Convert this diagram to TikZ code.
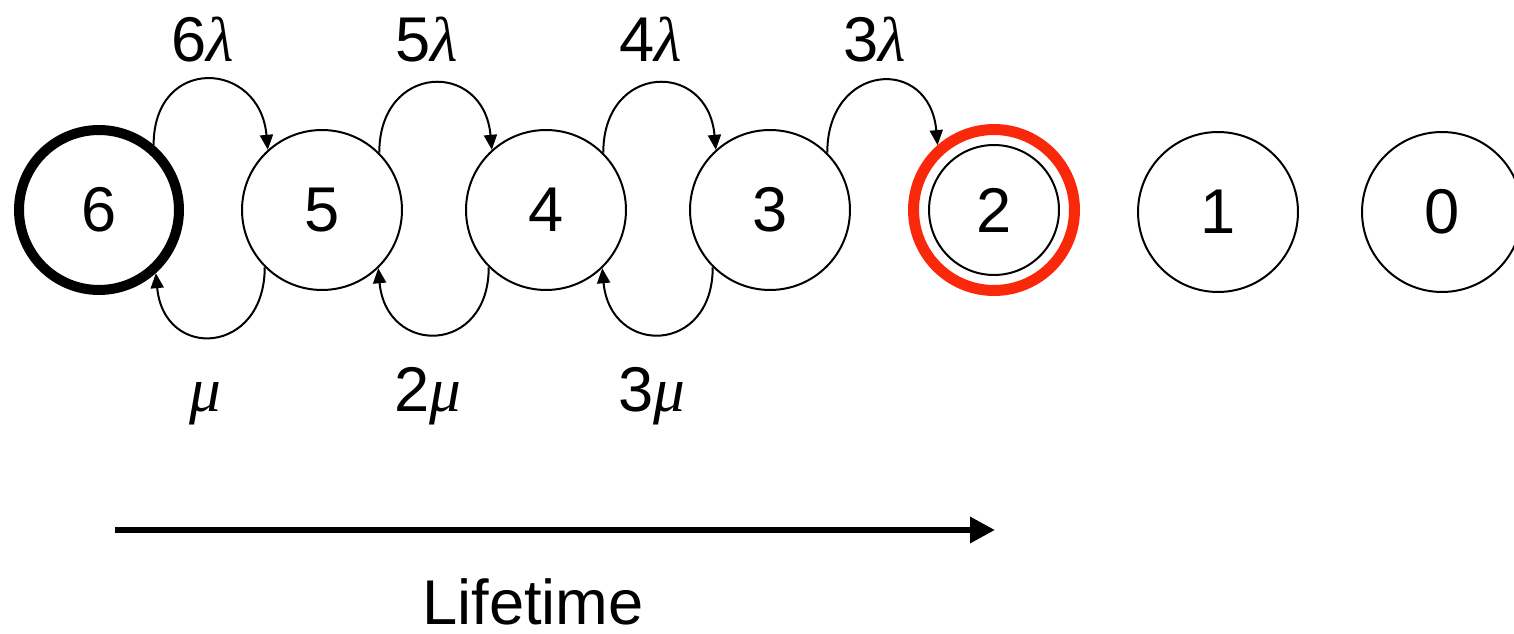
\documentclass[tikz,border=0pt]{standalone}
\usepackage{fontspec}
\setmainfont{Liberation Sans}
\newfontfamily\grk{Liberation Serif}
\usetikzlibrary{arrows.meta}
\definecolor{redring}{RGB}{250,40,10}
\newcommand{\glam}{{\grk\itshape λ}}
\newcommand{\gmu}{{\grk\itshape μ}}
\begin{document}
\begin{tikzpicture}[x=0.02cm,y=0.02cm,
  font=\fontsize{36}{40}\selectfont,
  state/.style={circle,draw,line width=0.04cm,minimum size=3.2cm,inner sep=0pt},
  startstate/.style={circle,draw,line width=0.2cm,minimum size=3.2cm,inner sep=0pt},
  goalstate/.style={circle,draw=redring,line width=0.22cm,minimum size=3.22cm,inner sep=0pt},
  innerring/.style={circle,draw,line width=0.04cm,minimum size=2.6cm,inner sep=0pt},
  trans/.style={line width=0.04cm,-{Triangle[length=0.3cm,width=0.26cm]}},
  rate/.style={anchor=base,inner sep=0pt},
  lifearrow/.style={line width=0.14cm,-{Triangle[length=0.5cm,width=0.5cm]}}
]
\useasboundingbox (0,0) rectangle (1514,-634);
\clip (0,0) rectangle (1514,-634);
\node[startstate] (n6) at (99,-210) {6};
\node[state] (n5) at (322,-210) {5};
\node[state] (n4) at (546,-210) {4};
\node[state] (n3) at (770,-210) {3};
\node[goalstate] (n2) at (994,-210) {2};
\node[innerring] (n2in) at (994,-210) {};
\node[state] (n1) at (1218,-212) {1};
\node[state] (n0) at (1442,-212) {0};
% upper transitions
\draw[trans] (n6.50) .. controls +(0,90) and +(-8,90) .. (n5.132);
\draw[trans] (n5.45) .. controls +(0,90) and +(-8,90) .. (n4.132);
\draw[trans] (n4.45) .. controls +(0,90) and +(-8,90) .. (n3.132);
\draw[trans] (n3.45) .. controls +(0,90) and +(-8,90) .. (n2.131);
% lower transitions
\draw[trans] (n5.225) .. controls +(0,-88) and +(8,-88) .. (n6.312);
\draw[trans] (n4.225) .. controls +(0,-88) and +(8,-88) .. (n5.314);
\draw[trans] (n3.225) .. controls +(0,-88) and +(8,-88) .. (n4.314);
% rate labels
\node[rate] (l6) at (203,-62) {6\glam};
\node[rate] (l5) at (427,-62) {5\glam};
\node[rate] (l4) at (651,-62) {4\glam};
\node[rate] (l3) at (875,-62) {3\glam};
\node[rate] (m1) at (205,-412) {\gmu};
\node[rate] (m2) at (428,-412) {2\gmu};
\node[rate] (m3) at (652,-412) {3\gmu};
% lifetime
\coordinate (ls) at (115,-530);
\coordinate (le) at (995,-530);
\draw[lifearrow] (ls) -- (le);
\node[rate] (life) at (533,-624) {Lifetime};
\end{tikzpicture}
\end{document}
